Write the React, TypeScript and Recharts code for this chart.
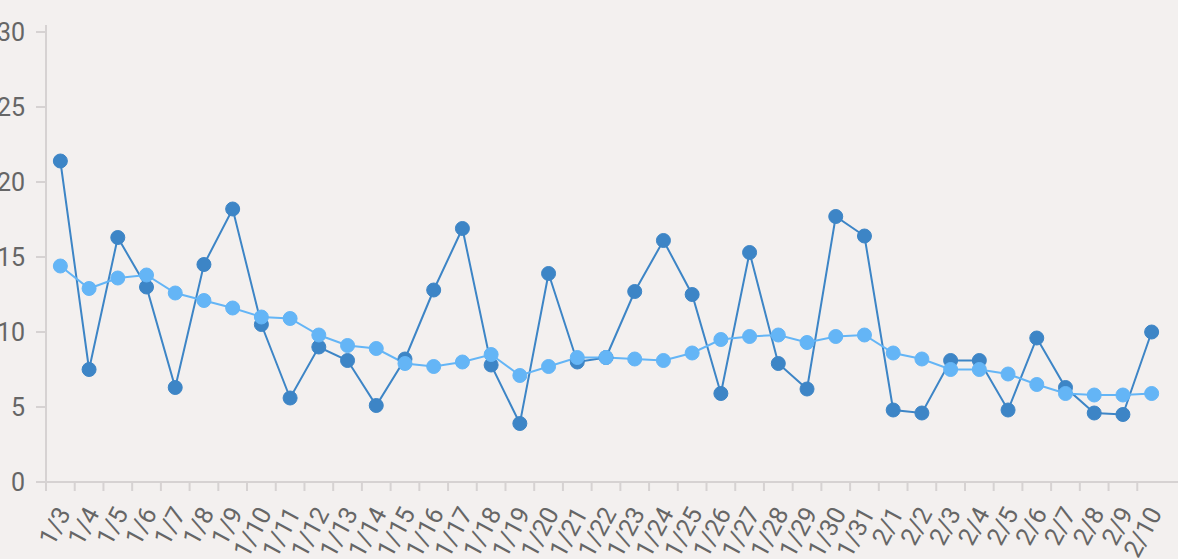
import { LineChart, Line, XAxis, YAxis } from 'recharts';

const dates = [
  '1/3', '1/4', '1/5', '1/6', '1/7', '1/8', '1/9', '1/10', '1/11', '1/12',
  '1/13', '1/14', '1/15', '1/16', '1/17', '1/18', '1/19', '1/20', '1/21', '1/22',
  '1/23', '1/24', '1/25', '1/26', '1/27', '1/28', '1/29', '1/30', '1/31', '2/1',
  '2/2', '2/3', '2/4', '2/5', '2/6', '2/7', '2/8', '2/9', '2/10',
];

// daily values (dark line)
const daily = [
  21.4, 7.5, 16.3, 13.0, 6.3, 14.5, 18.2, 10.5, 5.6, 9.0,
  8.1, 5.1, 8.2, 12.8, 16.9, 7.8, 3.9, 13.9, 8.0, 8.3,
  12.7, 16.1, 12.5, 5.9, 15.3, 7.9, 6.2, 17.7, 16.4, 4.8,
  4.6, 8.1, 8.1, 4.8, 9.6, 6.3, 4.6, 4.5, 10.0,
];

// smoothed values (light line)
const average = [
  14.4, 12.9, 13.6, 13.8, 12.6, 12.1, 11.6, 11.0, 10.9, 9.8,
  9.1, 8.9, 7.9, 7.7, 8.0, 8.5, 7.1, 7.7, 8.3, 8.3,
  8.2, 8.1, 8.6, 9.5, 9.7, 9.8, 9.3, 9.7, 9.8, 8.6,
  8.2, 7.5, 7.5, 7.2, 6.5, 5.9, 5.8, 5.8, 5.9,
];

const yTicks = [0, 5, 10, 15, 20, 25, 30];

const data = dates.map((date, i) => ({ date, daily: daily[i], average: average[i] }));

const PAD_RIGHT = 12;
const AXIS_COLOR = '#d6d2d2';
const TEXT_COLOR = '#666666';

function DateTick(props: any) {
  const { x, y, payload, width, visibleTicksCount } = props;
  const band = (width - PAD_RIGHT) / visibleTicksCount;
  const edge = x - band / 2;
  const tx = x + 11;
  const ty = y + 31;
  return (
    <g>
      <line x1={edge} x2={edge} y1={y} y2={y + 9} stroke={AXIS_COLOR} strokeWidth={2} />
      <text
        x={tx}
        y={ty}
        transform={`rotate(-62, ${tx}, ${ty})`}
        textAnchor="end"
        fill={TEXT_COLOR}
        fontSize={25}
      >
        {payload.value}
      </text>
    </g>
  );
}

export default function App() {
  return (
    <div
      style={{
        position: 'absolute',
        left: 0,
        top: 0,
        width: 1178,
        height: 559,
        background: '#f3f0ef',
        fontFamily: 'Roboto, sans-serif',
        overflow: 'hidden',
      }}
    >
      <LineChart width={1178} height={559} data={data} margin={{ top: 25, right: 0, left: 0, bottom: 0 }}>
        <XAxis
          dataKey="date"
          scale="band"
          interval={0}
          height={77}
          padding={{ left: 0, right: PAD_RIGHT }}
          tickLine={false}
          tickSize={0}
          tickMargin={0}
          axisLine={{ stroke: AXIS_COLOR, strokeWidth: 2 }}
          tick={<DateTick />}
        />
        <YAxis
          width={46}
          domain={[0, 30]}
          ticks={yTicks}
          padding={{ top: 7, bottom: 0 }}
          tickSize={10}
          tickMargin={11}
          axisLine={{ stroke: AXIS_COLOR, strokeWidth: 2 }}
          tickLine={{ stroke: AXIS_COLOR, strokeWidth: 2 }}
          tick={{ fill: TEXT_COLOR, fontSize: 25 }}
        />
        <Line
          dataKey="daily"
          stroke="#3d85c6"
          strokeWidth={2}
          dot={{ r: 7, fill: '#3d85c6', stroke: '#3d85c6', strokeWidth: 1 }}
          activeDot={false}
          isAnimationActive={false}
        />
        <Line
          dataKey="average"
          stroke="#64b5f6"
          strokeWidth={2}
          dot={{ r: 7, fill: '#64b5f6', stroke: '#64b5f6', strokeWidth: 1 }}
          activeDot={false}
          isAnimationActive={false}
        />
      </LineChart>
    </div>
  );
}
